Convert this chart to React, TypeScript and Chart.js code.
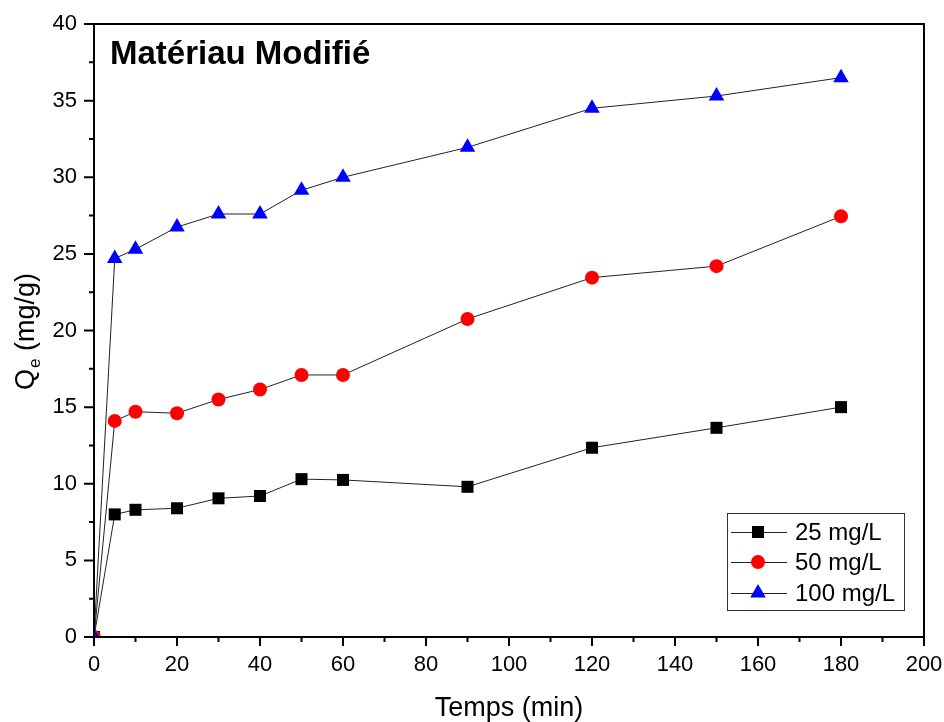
import React, { useEffect, useRef } from "react";
import { Chart, registerables } from "chart.js";

Chart.register(...registerables);

const timeMin = [0, 5, 10, 20, 30, 40, 50, 60, 90, 120, 150, 180];
const qe25 = [0, 8.0, 8.3, 8.4, 9.05, 9.2, 10.3, 10.25, 9.8, 12.35, 13.65, 15.0];
const qe50 = [0, 14.1, 14.7, 14.6, 15.5, 16.15, 17.1, 17.1, 20.75, 23.45, 24.2, 27.45];
const qe100 = [0, 24.7, 25.3, 26.75, 27.6, 27.6, 29.15, 30.0, 31.95, 34.5, 35.3, 36.5];
const seriesLabels = ["25 mg/L", "50 mg/L", "100 mg/L"];
const chartTitle = "Matériau Modifié";
const xTitle = "Temps (min)";

const FONT = "'Liberation Sans', Arial, Helvetica, sans-serif";

const toPts = (ys: number[]) => ys.map((y, i) => ({ x: timeMin[i], y }));

function drawMarker(ctx: CanvasRenderingContext2D, style: string, x: number, y: number, r: number, color: string) {
  ctx.save();
  ctx.fillStyle = color;
  ctx.beginPath();
  if (style === "rect") {
    const o = Math.cos(Math.PI / 4) * r;
    ctx.rect(x - o, y - o, 2 * o, 2 * o);
  } else if (style === "circle") {
    ctx.arc(x, y, r, 0, Math.PI * 2);
  } else {
    let rad = 0;
    ctx.moveTo(x + Math.sin(rad) * r, y - Math.cos(rad) * r);
    rad += (2 * Math.PI) / 3;
    ctx.lineTo(x + Math.sin(rad) * r, y - Math.cos(rad) * r);
    rad += (2 * Math.PI) / 3;
    ctx.lineTo(x + Math.sin(rad) * r, y - Math.cos(rad) * r);
    ctx.closePath();
  }
  ctx.fill();
  ctx.restore();
}

const decorPlugin = {
  id: "decor",
  afterDraw(chart: any) {
    const ctx: CanvasRenderingContext2D = chart.ctx;
    const { left, right, top, bottom } = chart.chartArea;
    const xs = chart.scales.x;
    const ys = chart.scales.y;
    ctx.save();
    // frame
    ctx.strokeStyle = "#000";
    ctx.lineWidth = 2;
    ctx.strokeRect(left, top, right - left, bottom - top);
    // ticks
    ctx.beginPath();
    for (let v = 0; v <= 200; v += 10) {
      const px = xs.getPixelForValue(v);
      const len = v % 20 === 0 ? 9 : 5;
      ctx.moveTo(px, bottom);
      ctx.lineTo(px, bottom + len);
    }
    for (let v = 0; v <= 40; v += 2.5) {
      const py = ys.getPixelForValue(v);
      const len = v % 5 === 0 ? 10 : 5;
      ctx.moveTo(left, py);
      ctx.lineTo(left - len, py);
    }
    ctx.stroke();

    // chart title
    ctx.fillStyle = "#000";
    ctx.font = `bold 33px ${FONT}`;
    ctx.textAlign = "left";
    ctx.textBaseline = "alphabetic";
    ctx.fillText(chartTitle, left + 16, 64);

    // x title
    ctx.font = `27px ${FONT}`;
    ctx.textAlign = "center";
    ctx.fillText(xTitle, (left + right) / 2, 716);

    // y title with subscript
    ctx.save();
    ctx.translate(34, 390);
    ctx.rotate(-Math.PI / 2);
    ctx.textAlign = "left";
    ctx.font = `27px ${FONT}`;
    ctx.fillText("Q", 0, 0);
    const wQ = ctx.measureText("Q").width;
    ctx.font = `17px ${FONT}`;
    ctx.fillText("e", wQ + 1, 6);
    const we = ctx.measureText("e").width;
    ctx.font = `27px ${FONT}`;
    ctx.fillText(" (mg/g)", wQ + we + 1, 0);
    ctx.restore();

    // legend
    const bx = 727, by = 513, bw = 177, bh = 97;
    ctx.fillStyle = "#fff";
    ctx.fillRect(bx, by, bw, bh);
    ctx.strokeStyle = "#333";
    ctx.lineWidth = 1;
    ctx.strokeRect(bx + 0.5, by + 0.5, bw, bh);
    const rows = [532, 562, 593];
    chart.data.datasets.forEach((ds: any, i: number) => {
      const y = rows[i];
      ctx.strokeStyle = "#222";
      ctx.lineWidth = 1;
      ctx.beginPath();
      ctx.moveTo(731, y + 0.5);
      ctx.lineTo(787, y + 0.5);
      ctx.stroke();
      drawMarker(ctx, ds.pointStyle, 758, y, ds.pointRadius, ds.pointBackgroundColor);
      ctx.fillStyle = "#000";
      ctx.font = `24px ${FONT}`;
      ctx.textAlign = "left";
      ctx.textBaseline = "middle";
      ctx.fillText(ds.label, 795, y + 1);
    });
    ctx.restore();
  },
};

const zeroPad = (s: any) => {
  s.paddingLeft = 0;
  s.paddingRight = 0;
  s.paddingTop = 0;
  s.paddingBottom = 0;
};

export default function App() {
  const ref = useRef<HTMLCanvasElement | null>(null);
  useEffect(() => {
    if (!ref.current) return;
    const mk = (label: string, ys: number[], color: string, style: string, r: number, order: number) => ({
      label,
      data: toPts(ys),
      borderColor: "#222",
      borderWidth: 1,
      pointStyle: style,
      pointRadius: r,
      pointHoverRadius: r,
      pointBackgroundColor: color,
      pointBorderColor: color,
      pointBorderWidth: 0,
      fill: false,
      tension: 0,
      order,
    });
    const chart = new Chart(ref.current, {
      type: "line",
      data: {
        datasets: [
          mk(seriesLabels[0], qe25, "#000000", "rect", 8.5, 3),
          mk(seriesLabels[1], qe50, "#ff0000", "circle", 7, 2),
          mk(seriesLabels[2], qe100, "#0000ff", "triangle", 9, 1),
        ],
      },
      options: {
        animation: false,
        responsive: false,
        layout: { padding: { left: 0, right: 20, top: 24, bottom: 0 } },
        plugins: { legend: { display: false }, tooltip: { enabled: false }, title: { display: false } },
        scales: {
          x: {
            type: "linear",
            min: 0,
            max: 200,
            grid: { display: false, drawTicks: false },
            border: { display: false },
            ticks: {
              stepSize: 20,
              autoSkip: false,
              maxRotation: 0,
              padding: 15,
              color: "#000",
              font: { family: FONT, size: 22 },
            },
            afterFit: (s: any) => {
              s.height = 85;
              zeroPad(s);
            },
          },
          y: {
            type: "linear",
            min: 0,
            max: 40,
            grid: { display: false, drawTicks: false },
            border: { display: false },
            ticks: {
              stepSize: 5,
              autoSkip: false,
              padding: 17,
              color: "#000",
              font: { family: FONT, size: 22 },
            },
            afterFit: (s: any) => {
              s.width = 94;
              zeroPad(s);
            },
          },
        },
      },
      plugins: [decorPlugin],
    } as any);
    return () => chart.destroy();
  }, []);
  return (
    <div style={{ position: "absolute", left: 0, top: 0, width: 944, height: 722, background: "#fff" }}>
      <canvas ref={ref} width={944} height={722} style={{ width: 944, height: 722, display: "block" }} />
    </div>
  );
}
